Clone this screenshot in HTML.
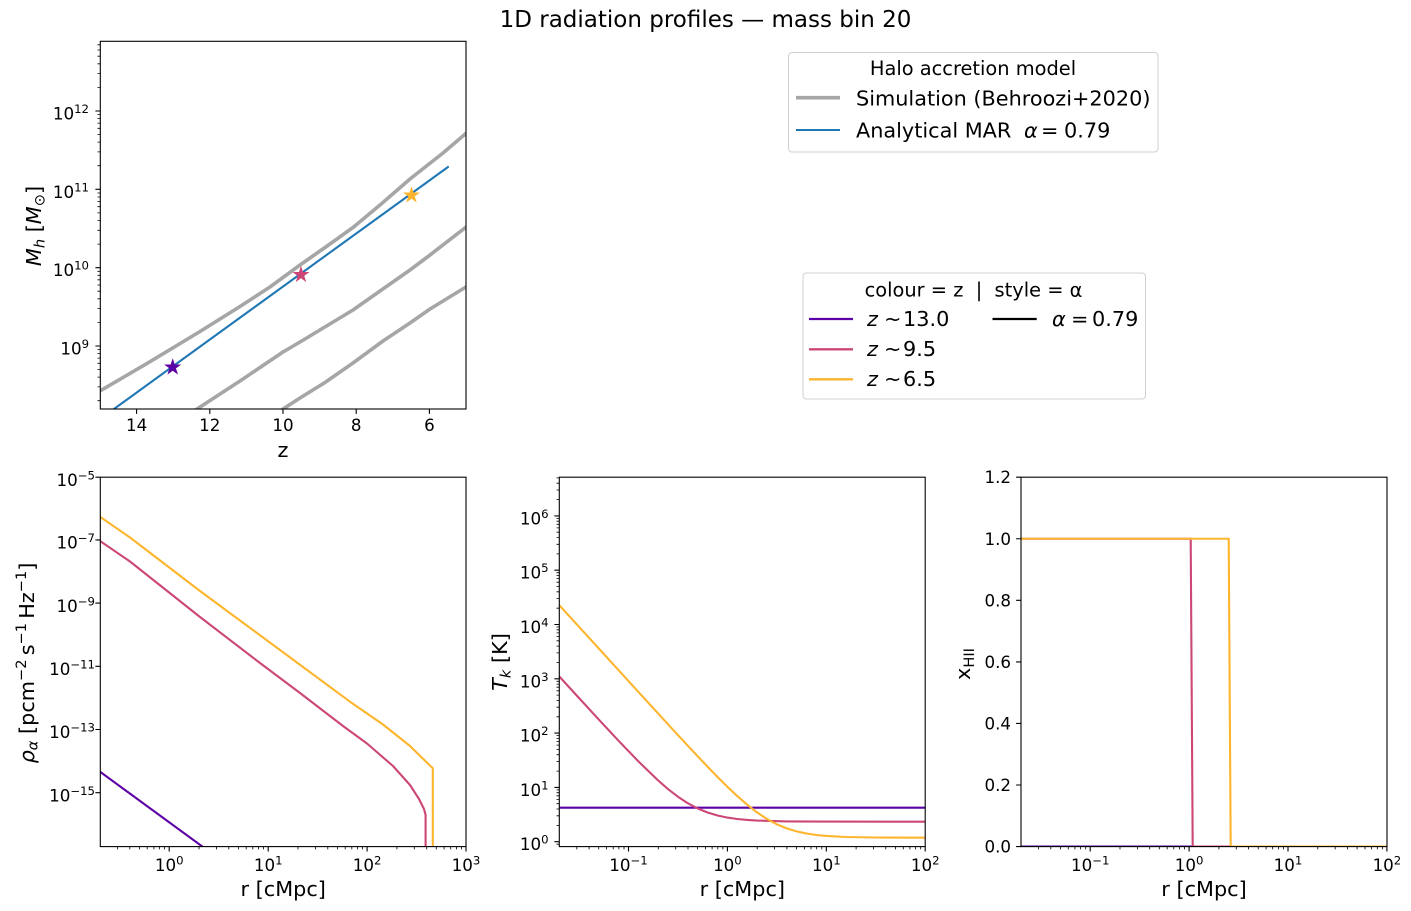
<!DOCTYPE html>
<html><head><meta charset="utf-8"><style>
html,body{margin:0;padding:0;background:#fff;}
svg{display:block;font-family:"DejaVu Sans","Liberation Sans",sans-serif;}
text{fill:#000;}
</style></head><body>
<svg width="1411" height="911" viewBox="0 0 1411 911" xmlns="http://www.w3.org/2000/svg">
<defs>
<clipPath id="c1"><rect x="100.3" y="41.3" width="365.7" height="367.7"/></clipPath>
<clipPath id="c2"><rect x="100.3" y="477.2" width="365.7" height="369.4"/></clipPath>
<clipPath id="c3"><rect x="559.3" y="477.2" width="365.9" height="369.4"/></clipPath>
<clipPath id="c4"><rect x="1021" y="477.2" width="366" height="369.4"/></clipPath>
<path id="star" d="M0,-9 L2.02,-2.78 L8.56,-2.78 L3.27,1.06 L5.29,7.28 L0,3.44 L-5.29,7.28 L-3.27,1.06 L-8.56,-2.78 L-2.02,-2.78 Z"/>
</defs>
<rect width="1411" height="911" fill="#fff"/>

<!-- Title -->
<text x="705.5" y="27" text-anchor="middle" font-size="23">1D radiation profiles — mass bin 20</text>

<!-- ============ Top-left panel ============ -->
<g clip-path="url(#c1)" fill="none" stroke-linejoin="round" stroke-linecap="round">
<path d="M95,394 L100,391 L150,361.7 L200,331.5 L240,306.5 L270,287 L300,265 L325,247.5 L353,227.5 L380,205 L410,179 L443,153 L470,130" stroke="#a6a6a6" stroke-width="3.6"/>
<path d="M190,414 L197,409 L240,381 L283,352 L300,342 L353,310 L380,291 L410,270 L430,255 L470,224" stroke="#a6a6a6" stroke-width="3.6"/>
<path d="M276,414 L283,409 L300,398 L325,382.5 L353,363 L383,341 L410,323 L430,309 L470,284.5" stroke="#a6a6a6" stroke-width="3.6"/>
<path d="M100,419.1 L448,167" stroke="#1f77b4" stroke-width="2.1"/>
<use href="#star" transform="translate(172.7,367.3)" fill="#5c01a6"/>
<use href="#star" transform="translate(301,274.8)" fill="#cc4778"/>
<use href="#star" transform="translate(411.5,195.3)" fill="#fdb52e"/>
</g>
<rect x="100.3" y="41.3" width="365.7" height="367.7" fill="none" stroke="#000" stroke-width="1.1"/>
<path stroke="#000" stroke-width="1.1" fill="none" d="
M100.3,346h-4.9 M100.3,267.7h-4.9 M100.3,189.3h-4.9 M100.3,111h-4.9
M136.6,409v4.9 M209.8,409v4.9 M283,409v4.9 M356.2,409v4.9 M429.4,409v4.9"/>
<path stroke="#000" stroke-width="0.8" fill="none" d="
M100.3,400.7h-2.8 M100.3,386.9h-2.8 M100.3,377.1h-2.8 M100.3,369.5h-2.8 M100.3,363.3h-2.8 M100.3,358.1h-2.8 M100.3,353.6h-2.8 M100.3,349.6h-2.8
M100.3,322.4h-2.8 M100.3,308.6h-2.8 M100.3,298.8h-2.8 M100.3,291.2h-2.8 M100.3,285h-2.8 M100.3,279.8h-2.8 M100.3,275.3h-2.8 M100.3,271.3h-2.8
M100.3,244.1h-2.8 M100.3,230.3h-2.8 M100.3,220.5h-2.8 M100.3,212.9h-2.8 M100.3,206.7h-2.8 M100.3,201.5h-2.8 M100.3,197h-2.8 M100.3,193h-2.8
M100.3,165.7h-2.8 M100.3,151.9h-2.8 M100.3,142.1h-2.8 M100.3,134.5h-2.8 M100.3,128.3h-2.8 M100.3,123.1h-2.8 M100.3,118.6h-2.8 M100.3,114.6h-2.8
M100.3,87.4h-2.8 M100.3,73.6h-2.8 M100.3,63.8h-2.8 M100.3,56.2h-2.8 M100.3,50h-2.8 M100.3,44.8h-2.8"/>
<g font-size="16.7">
<text x="89" y="354.5" text-anchor="end">10<tspan dy="-6.5" font-size="11.7">9</tspan></text>
<text x="89" y="276.2" text-anchor="end">10<tspan dy="-6.5" font-size="11.7">10</tspan></text>
<text x="89" y="197.8" text-anchor="end">10<tspan dy="-6.5" font-size="11.7">11</tspan></text>
<text x="89" y="119.5" text-anchor="end">10<tspan dy="-6.5" font-size="11.7">12</tspan></text>
<text x="136.6" y="431" text-anchor="middle">14</text>
<text x="209.8" y="431" text-anchor="middle">12</text>
<text x="283" y="431" text-anchor="middle">10</text>
<text x="356.2" y="431" text-anchor="middle">8</text>
<text x="429.4" y="431" text-anchor="middle">6</text>
</g>
<text x="283" y="457" text-anchor="middle" font-size="20.8">z</text>
<text transform="translate(41,226) rotate(-90)" text-anchor="middle" font-size="20.8"><tspan font-style="italic">M</tspan><tspan font-style="italic" font-size="14.6" dy="3.5">h</tspan><tspan dy="-3.5"> [</tspan><tspan font-style="italic">M</tspan><tspan font-size="14.6" dy="3.5">⊙</tspan><tspan dy="-3.5">]</tspan></text>

<!-- ============ Legend 1 ============ -->
<rect x="788.5" y="52.5" width="369.5" height="99.5" rx="3.5" fill="#fff" stroke="#d0d0d0" stroke-width="1"/>
<text x="973" y="75" text-anchor="middle" font-size="19.4">Halo accretion model</text>
<path d="M796,97.7 H840" stroke="#a6a6a6" stroke-width="3.6"/>
<text x="856" y="105.7" font-size="20.8">Simulation (Behroozi+2020)</text>
<path d="M796,130 H840" stroke="#1f77b4" stroke-width="2.1"/>
<text x="856" y="137.7" font-size="20.8">Analytical MAR</text>
<text x="1024" y="137.7" font-size="20.8" font-style="italic">α</text>
<text x="1041" y="137.7" font-size="20.8">=</text>
<text x="1064" y="137.7" font-size="20.8">0.79</text>

<!-- ============ Legend 2 ============ -->
<rect x="803" y="273" width="342.5" height="126" rx="3.5" fill="#fff" stroke="#d0d0d0" stroke-width="1"/>
<text x="973.5" y="296.7" text-anchor="middle" font-size="19.4">colour = z&#160;&#160;|&#160;&#160;style = α</text>
<path d="M809,319 H853" stroke="#5c01a6" stroke-width="2.3"/>
<path d="M809,349.3 H853" stroke="#cc4778" stroke-width="2.3"/>
<path d="M809,379.3 H853" stroke="#fdb52e" stroke-width="2.3"/>
<path d="M992.5,319 H1036.7" stroke="#000" stroke-width="2.3"/>
<g font-size="20.8">
<text x="867" y="326" font-style="italic">z</text><text x="884" y="326">∼</text><text x="903" y="326">13.0</text>
<text x="867" y="356" font-style="italic">z</text><text x="884" y="356">∼</text><text x="903" y="356">9.5</text>
<text x="867" y="386" font-style="italic">z</text><text x="884" y="386">∼</text><text x="903" y="386">6.5</text>
<text x="1052" y="326" font-style="italic">α</text><text x="1071" y="326">=</text><text x="1092" y="326">0.79</text>
</g>

<!-- ============ Bottom-left panel ============ -->
<g clip-path="url(#c2)" fill="none" stroke-width="2.1" stroke-linejoin="round">
<path stroke="#5c01a6" d="M100,771.7 L206,849.2"/>
<path stroke="#cc4778" d="M100,541 L130,561.5 L200,617 L260,663 L300,693 L343,726 L367,743.5 L393,766 L410,785 L419,799 L424,809 L425.6,815 L425.6,850"/>
<path stroke="#fdb52e" d="M100,516.7 L130,537.5 L200,591 L280,650 L350,701.7 L383,724.5 L410,746 L432.8,768.3 L432.8,850"/>
</g>
<rect x="100.3" y="477.2" width="365.7" height="369.4" fill="none" stroke="#000" stroke-width="1.1"/>
<path stroke="#000" stroke-width="1.1" fill="none" d="
M100.3,477.2h-4.9 M100.3,539.9h-4.9 M100.3,603.1h-4.9 M100.3,666.3h-4.9 M100.3,729.5h-4.9 M100.3,792.7h-4.9
M169.2,846.6v4.9 M268.2,846.6v4.9 M367.1,846.6v4.9 M466,846.6v4.9"/>
<path stroke="#000" stroke-width="0.8" fill="none" d="
M117.4,846.6v2.8 M129.8,846.6v2.8 M139.4,846.6v2.8 M147.2,846.6v2.8 M153.9,846.6v2.8 M159.6,846.6v2.8 M164.6,846.6v2.8
M199,846.6v2.8 M216.4,846.6v2.8 M228.8,846.6v2.8 M238.4,846.6v2.8 M246.2,846.6v2.8 M252.8,846.6v2.8 M258.6,846.6v2.8 M263.6,846.6v2.8
M298,846.6v2.8 M315.4,846.6v2.8 M327.8,846.6v2.8 M337.4,846.6v2.8 M345.2,846.6v2.8 M351.8,846.6v2.8 M357.6,846.6v2.8 M362.6,846.6v2.8
M396.9,846.6v2.8 M414.3,846.6v2.8 M426.7,846.6v2.8 M436.3,846.6v2.8 M444.1,846.6v2.8 M450.7,846.6v2.8 M456.5,846.6v2.8 M461.5,846.6v2.8"/>
<g font-size="16.7">
<text x="95" y="486" text-anchor="end">10<tspan dy="-6.5" font-size="11.7">−5</tspan></text>
<text x="95" y="548.6" text-anchor="end">10<tspan dy="-6.5" font-size="11.7">−7</tspan></text>
<text x="95" y="611.8" text-anchor="end">10<tspan dy="-6.5" font-size="11.7">−9</tspan></text>
<text x="95" y="675" text-anchor="end">10<tspan dy="-6.5" font-size="11.7">−11</tspan></text>
<text x="95" y="738.2" text-anchor="end">10<tspan dy="-6.5" font-size="11.7">−13</tspan></text>
<text x="95" y="801.4" text-anchor="end">10<tspan dy="-6.5" font-size="11.7">−15</tspan></text>
<text x="169.2" y="871" text-anchor="middle">10<tspan dy="-6.5" font-size="11.7">0</tspan></text>
<text x="268.2" y="871" text-anchor="middle">10<tspan dy="-6.5" font-size="11.7">1</tspan></text>
<text x="367.1" y="871" text-anchor="middle">10<tspan dy="-6.5" font-size="11.7">2</tspan></text>
<text x="466" y="871" text-anchor="middle">10<tspan dy="-6.5" font-size="11.7">3</tspan></text>
</g>
<text x="283.2" y="896" text-anchor="middle" font-size="20.8">r [cMpc]</text>
<text transform="translate(34,663) rotate(-90)" text-anchor="middle" font-size="20.8"><tspan font-style="italic">ρ</tspan><tspan font-style="italic" font-size="14.6" dy="3.5">α</tspan><tspan dy="-3.5"> [pcm</tspan><tspan font-size="14.6" dy="-8">−2</tspan><tspan dy="8">&#8201;s</tspan><tspan font-size="14.6" dy="-8">−1</tspan><tspan dy="8">&#8201;Hz</tspan><tspan font-size="14.6" dy="-8">−1</tspan><tspan dy="8">]</tspan></text>

<!-- ============ Bottom-middle panel ============ -->
<g clip-path="url(#c3)" fill="none" stroke-width="2.1" stroke-linejoin="round">
<path stroke="#5c01a6" d="M559.3,807.7 H925.2"/>
<path stroke="#cc4778" d="M559.3,676.5 L579,698 L598.8,719.6 L618.6,740.8 L638.4,761.4 L658.2,780.5 L668,789.1 L677.9,796.7 L687.8,803.2 L697.7,808.5 L707.6,812.5 L717.5,815.5 L727.4,817.6 L737.3,819 L747.2,819.9 L757.1,820.6 L786.7,821.4 L826.3,821.6 L925.2,821.7"/>
<path stroke="#fdb52e" d="M559.3,605.2 L579,626.8 L598.8,648.5 L618.6,670.2 L638.4,691.9 L658.2,713.6 L677.9,735.1 L697.7,756.3 L717.5,777 L727.4,786.8 L737.3,796.1 L747.2,804.7 L757.1,812.4 L767,819 L776.8,824.3 L786.7,828.4 L796.6,831.4 L806.5,833.5 L816.4,835 L826.3,835.9 L846.1,837 L875.7,837.5 L925.2,837.7"/>
</g>
<rect x="559.3" y="477.2" width="365.9" height="369.4" fill="none" stroke="#000" stroke-width="1.1"/>
<path stroke="#000" stroke-width="1.1" fill="none" d="
M559.3,841.7h-4.9 M559.3,787.4h-4.9 M559.3,733.1h-4.9 M559.3,678.8h-4.9 M559.3,624.5h-4.9 M559.3,570.2h-4.9 M559.3,515.9h-4.9
M628.5,846.6v4.9 M727.4,846.6v4.9 M826.3,846.6v4.9 M925.2,846.6v4.9"/>
<path stroke="#000" stroke-width="0.8" fill="none" d="
M559.3,844.2h-2.8 M559.3,825.4h-2.8 M559.3,815.8h-2.8 M559.3,809h-2.8 M559.3,803.7h-2.8 M559.3,799.4h-2.8 M559.3,795.8h-2.8 M559.3,792.7h-2.8 M559.3,789.9h-2.8
M559.3,771.1h-2.8 M559.3,761.5h-2.8 M559.3,754.7h-2.8 M559.3,749.4h-2.8 M559.3,745.1h-2.8 M559.3,741.5h-2.8 M559.3,738.4h-2.8 M559.3,735.6h-2.8
M559.3,716.8h-2.8 M559.3,707.2h-2.8 M559.3,700.4h-2.8 M559.3,695.1h-2.8 M559.3,690.8h-2.8 M559.3,687.2h-2.8 M559.3,684.1h-2.8 M559.3,681.3h-2.8
M559.3,662.5h-2.8 M559.3,652.9h-2.8 M559.3,646.1h-2.8 M559.3,640.8h-2.8 M559.3,636.5h-2.8 M559.3,632.9h-2.8 M559.3,629.8h-2.8 M559.3,627h-2.8
M559.3,608.2h-2.8 M559.3,598.6h-2.8 M559.3,591.8h-2.8 M559.3,586.5h-2.8 M559.3,582.2h-2.8 M559.3,578.6h-2.8 M559.3,575.5h-2.8 M559.3,572.7h-2.8
M559.3,553.9h-2.8 M559.3,544.3h-2.8 M559.3,537.5h-2.8 M559.3,532.2h-2.8 M559.3,527.9h-2.8 M559.3,524.3h-2.8 M559.3,521.2h-2.8 M559.3,518.4h-2.8
M559.3,499.6h-2.8 M559.3,490h-2.8 M559.3,483.2h-2.8 M559.3,477.9h-2.8
M576.8,846.6v2.8 M589.1,846.6v2.8 M598.7,846.6v2.8 M606.6,846.6v2.8 M613.2,846.6v2.8 M618.9,846.6v2.8 M624,846.6v2.8
M658.3,846.6v2.8 M675.7,846.6v2.8 M688,846.6v2.8 M697.6,846.6v2.8 M705.5,846.6v2.8 M712.1,846.6v2.8 M717.8,846.6v2.8 M722.9,846.6v2.8
M757.2,846.6v2.8 M774.6,846.6v2.8 M786.9,846.6v2.8 M796.5,846.6v2.8 M804.4,846.6v2.8 M811,846.6v2.8 M816.7,846.6v2.8 M821.8,846.6v2.8
M856.1,846.6v2.8 M873.5,846.6v2.8 M885.8,846.6v2.8 M895.4,846.6v2.8 M903.3,846.6v2.8 M909.9,846.6v2.8 M915.6,846.6v2.8 M920.7,846.6v2.8"/>
<g font-size="16.7">
<text x="548.5" y="850.2" text-anchor="end">10<tspan dy="-6.5" font-size="11.7">0</tspan></text>
<text x="548.5" y="795.9" text-anchor="end">10<tspan dy="-6.5" font-size="11.7">1</tspan></text>
<text x="548.5" y="741.6" text-anchor="end">10<tspan dy="-6.5" font-size="11.7">2</tspan></text>
<text x="548.5" y="687.3" text-anchor="end">10<tspan dy="-6.5" font-size="11.7">3</tspan></text>
<text x="548.5" y="633" text-anchor="end">10<tspan dy="-6.5" font-size="11.7">4</tspan></text>
<text x="548.5" y="578.7" text-anchor="end">10<tspan dy="-6.5" font-size="11.7">5</tspan></text>
<text x="548.5" y="524.4" text-anchor="end">10<tspan dy="-6.5" font-size="11.7">6</tspan></text>
<text x="628.5" y="871" text-anchor="middle">10<tspan dy="-6.5" font-size="11.7">−1</tspan></text>
<text x="727.4" y="871" text-anchor="middle">10<tspan dy="-6.5" font-size="11.7">0</tspan></text>
<text x="826.3" y="871" text-anchor="middle">10<tspan dy="-6.5" font-size="11.7">1</tspan></text>
<text x="925.2" y="871" text-anchor="middle">10<tspan dy="-6.5" font-size="11.7">2</tspan></text>
</g>
<text x="742.3" y="896" text-anchor="middle" font-size="20.8">r [cMpc]</text>
<text transform="translate(507,662) rotate(-90)" text-anchor="middle" font-size="20.8"><tspan font-style="italic">T</tspan><tspan font-style="italic" font-size="14.6" dy="3.5">k</tspan><tspan dy="-3.5"> [K]</tspan></text>

<!-- ============ Bottom-right panel ============ -->
<g clip-path="url(#c4)" fill="none" stroke-width="2.1" stroke-linejoin="miter">
<path stroke="#5c01a6" d="M1021,846.6 H1387"/>
<path stroke="#cc4778" d="M1021,538.75 H1190.7 L1192.7,846.6 H1387"/>
<path stroke="#fdb52e" d="M1021,538.75 H1228.7 L1230.7,846.6 H1387"/>
</g>
<rect x="1021" y="477.2" width="366" height="369.4" fill="none" stroke="#000" stroke-width="1.1"/>
<path stroke="#000" stroke-width="1.1" fill="none" d="
M1021,846.6h-4.9 M1021,785h-4.9 M1021,723.4h-4.9 M1021,661.9h-4.9 M1021,600.3h-4.9 M1021,538.75h-4.9 M1021,477.2h-4.9
M1090.2,846.6v4.9 M1189.1,846.6v4.9 M1288,846.6v4.9 M1386.9,846.6v4.9"/>
<path stroke="#000" stroke-width="0.8" fill="none" d="
M1038.5,846.6v2.8 M1050.8,846.6v2.8 M1060.4,846.6v2.8 M1068.3,846.6v2.8 M1074.9,846.6v2.8 M1080.6,846.6v2.8 M1085.7,846.6v2.8
M1120,846.6v2.8 M1137.4,846.6v2.8 M1149.7,846.6v2.8 M1159.3,846.6v2.8 M1167.2,846.6v2.8 M1173.8,846.6v2.8 M1179.5,846.6v2.8 M1184.6,846.6v2.8
M1218.9,846.6v2.8 M1236.3,846.6v2.8 M1248.6,846.6v2.8 M1258.2,846.6v2.8 M1266.1,846.6v2.8 M1272.7,846.6v2.8 M1278.4,846.6v2.8 M1283.5,846.6v2.8
M1317.8,846.6v2.8 M1335.2,846.6v2.8 M1347.5,846.6v2.8 M1357.1,846.6v2.8 M1365,846.6v2.8 M1371.6,846.6v2.8 M1377.3,846.6v2.8 M1382.4,846.6v2.8"/>
<g font-size="16.7">
<text x="1011" y="852.6" text-anchor="end">0.0</text>
<text x="1011" y="791" text-anchor="end">0.2</text>
<text x="1011" y="729.4" text-anchor="end">0.4</text>
<text x="1011" y="667.9" text-anchor="end">0.6</text>
<text x="1011" y="606.3" text-anchor="end">0.8</text>
<text x="1011" y="544.75" text-anchor="end">1.0</text>
<text x="1011" y="483.2" text-anchor="end">1.2</text>
<text x="1090.2" y="871" text-anchor="middle">10<tspan dy="-6.5" font-size="11.7">−1</tspan></text>
<text x="1189.1" y="871" text-anchor="middle">10<tspan dy="-6.5" font-size="11.7">0</tspan></text>
<text x="1288" y="871" text-anchor="middle">10<tspan dy="-6.5" font-size="11.7">1</tspan></text>
<text x="1386.9" y="871" text-anchor="middle">10<tspan dy="-6.5" font-size="11.7">2</tspan></text>
</g>
<text x="1204" y="896" text-anchor="middle" font-size="20.8">r [cMpc]</text>
<text transform="translate(970,664) rotate(-90)" text-anchor="middle" font-size="20.8">x<tspan font-size="14.6" dy="4">HII</tspan></text>
</svg>
</body></html>
